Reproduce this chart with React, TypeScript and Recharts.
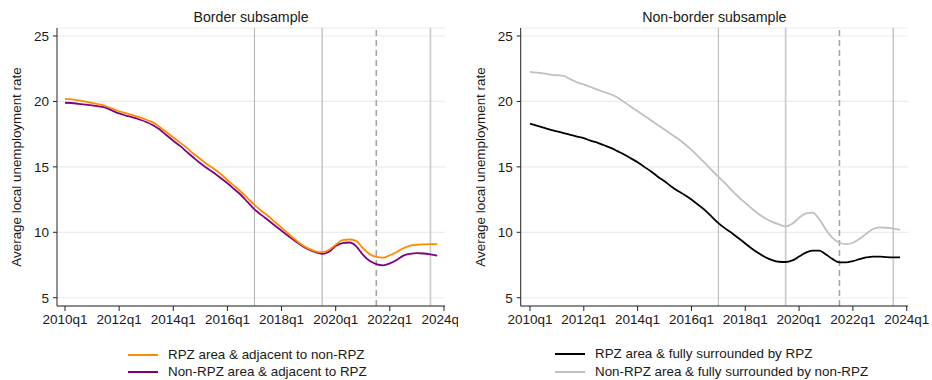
import { CartesianGrid, Line, LineChart, ReferenceLine, XAxis, YAxis } from 'recharts'

// quarter labels 2010q1 .. 2023q4
const quarters: string[] = []
for (let y = 2010; y <= 2023; y++) for (let q = 1; q <= 4; q++) quarters.push(`${y}q${q}`)

const xTicks = [0, 8, 16, 24, 32, 40, 48, 56]
const xTickLabels = ['2010q1', '2012q1', '2014q1', '2016q1', '2018q1', '2020q1', '2022q1', '2024q1']
const yTicks = [5, 10, 15, 20, 25]

// event markers (quarter index): 2017q1, 2019q3, 2021q3 (dashed), 2023q3
const solidThin = [28]
const solidThick = [38, 54]
const dashed = [46]

// Border subsample
const rpzAdjacent = [
  20.2, 20.15, 20.08, 19.98, 19.88, 19.78, 19.65, 19.45, 19.25, 19.1, 18.95, 18.8, 18.6, 18.4,
  18.05, 17.65, 17.25, 16.85, 16.45, 16.0, 15.6, 15.2, 14.85, 14.45, 14.0, 13.55, 13.1, 12.6,
  12.1, 11.65, 11.25, 10.8, 10.35, 9.9, 9.45, 9.05, 8.75, 8.55, 8.48, 8.65, 9.05, 9.4,
  9.45, 9.35, 8.8, 8.35, 8.12, 8.06, 8.25, 8.5, 8.78, 8.98, 9.05, 9.08, 9.1, 9.1,
]
const nonRpzAdjacent = [
  19.9, 19.88, 19.82, 19.76, 19.7, 19.62, 19.52, 19.3, 19.08, 18.92, 18.78, 18.62, 18.43, 18.18,
  17.85, 17.42, 17.0, 16.6, 16.15, 15.7, 15.27, 14.9, 14.55, 14.15, 13.75, 13.3, 12.85, 12.3,
  11.75, 11.33, 10.94, 10.52, 10.12, 9.72, 9.33, 8.98, 8.7, 8.48, 8.36, 8.52, 8.95, 9.18,
  9.22, 8.95, 8.3, 7.82, 7.57, 7.48, 7.62, 7.88, 8.22, 8.36, 8.41, 8.38, 8.31, 8.22,
]

// Non-border subsample
const rpzSurrounded = [
  18.3, 18.15, 18.0, 17.85, 17.72, 17.58, 17.45, 17.32, 17.2, 17.0, 16.85, 16.65, 16.45, 16.2,
  15.95, 15.65, 15.35, 15.0, 14.65, 14.25, 13.9, 13.5, 13.15, 12.85, 12.5, 12.1, 11.7, 11.2,
  10.7, 10.3, 9.95, 9.55, 9.15, 8.75, 8.4, 8.1, 7.88, 7.75, 7.73, 7.85, 8.15, 8.45,
  8.6, 8.6, 8.3, 7.95, 7.7, 7.7, 7.8, 7.95, 8.08, 8.15, 8.15, 8.1, 8.08, 8.08,
]
const nonRpzSurrounded = [
  22.25, 22.2, 22.15, 22.05, 22.0, 21.95, 21.7, 21.45, 21.3, 21.1, 20.9, 20.72, 20.55, 20.3,
  19.95, 19.6, 19.25, 18.9, 18.55, 18.2, 17.85, 17.5, 17.15, 16.75, 16.3, 15.8, 15.3, 14.75,
  14.25, 13.75, 13.2, 12.7, 12.25, 11.8, 11.4, 11.05, 10.8, 10.6, 10.45, 10.65, 11.1, 11.45,
  11.5, 11.0, 10.2, 9.55, 9.2, 9.1, 9.2, 9.5, 9.9, 10.25, 10.38, 10.35, 10.28, 10.18,
]

const borderData = quarters.map((q, i) => ({ t: i, q, a: rpzAdjacent[i], b: nonRpzAdjacent[i] }))
const nonBorderData = quarters.map((q, i) => ({ t: i, q, a: rpzSurrounded[i], b: nonRpzSurrounded[i] }))

const font = '"Liberation Sans", Arial, sans-serif'
const yLabel = 'Average local unemployment rate'

type PanelProps = {
  left: number
  width: number
  marginLeft: number
  marginRight: number
  xDomain: [number, number]
  title: string
  data: { t: number; a: number; b: number }[]
  colorA: string
  colorB: string
  labelX: number
}

function Panel({ left, width, marginLeft, marginRight, xDomain, title, data, colorA, colorB, labelX }: PanelProps) {
  const plotLeft = marginLeft + 40
  const plotRight = width - marginRight
  return (
    <div style={{ position: 'absolute', left, top: 0, width, height: 340, overflow: 'hidden' }}>
      <LineChart width={width} height={340} data={data} margin={{ top: 28, right: marginRight, bottom: 4, left: marginLeft }}>
        <CartesianGrid vertical={false} stroke="#ececec" strokeWidth={1.2} />
        <XAxis
          dataKey="t"
          type="number"
          domain={xDomain}
          allowDataOverflow
          ticks={xTicks}
          tickFormatter={(v: number) => xTickLabels[xTicks.indexOf(v)] ?? ''}
          interval={0}
          height={30}
          tickSize={5}
          tickMargin={3}
          stroke="#222"
          tick={{ fill: '#1a1a1a', fontSize: 13.5, fontFamily: font }}
        />
        <YAxis
          type="number"
          domain={[4.37, 25.61]}
          allowDataOverflow
          ticks={yTicks}
          width={40}
          tickSize={4}
          tickMargin={4}
          stroke="#222"
          tick={{ fill: '#1a1a1a', fontSize: 13.5, fontFamily: font }}
        />
        {solidThin.map((x) => (
          <ReferenceLine key={`s${x}`} x={x} stroke="#b4b4b4" strokeWidth={1} />
        ))}
        {solidThick.map((x) => (
          <ReferenceLine key={`t${x}`} x={x} stroke="#c8c8c8" strokeWidth={1.6} />
        ))}
        {dashed.map((x) => (
          <ReferenceLine key={`d${x}`} x={x} stroke="#a6a6a6" strokeWidth={1.6} strokeDasharray="6 4" />
        ))}
        <Line type="monotone" dataKey="b" stroke={colorB} strokeWidth={1.8} dot={false} isAnimationActive={false} />
        <Line type="monotone" dataKey="a" stroke={colorA} strokeWidth={1.8} dot={false} isAnimationActive={false} />
      </LineChart>
      <div
        style={{
          position: 'absolute',
          left: (plotLeft + plotRight) / 2,
          top: 9,
          transform: 'translateX(-50%)',
          whiteSpace: 'nowrap',
          fontFamily: font,
          fontSize: 14.2,
          color: '#1a1a1a',
          lineHeight: '17px',
        }}
      >
        {title}
      </div>
      <div
        style={{
          position: 'absolute',
          left: labelX,
          top: 167,
          transform: 'translate(-50%, -50%) rotate(-90deg)',
          whiteSpace: 'nowrap',
          fontFamily: font,
          fontSize: 13.4,
          color: '#1a1a1a',
        }}
      >
        {yLabel}
      </div>
    </div>
  )
}

function LegendItem({ left, top, color, text }: { left: number; top: number; color: string; text: string }) {
  return (
    <div style={{ position: 'absolute', left, top, display: 'flex', alignItems: 'center', fontFamily: font, fontSize: 13.4, color: '#1a1a1a', whiteSpace: 'nowrap', lineHeight: '16px' }}>
      <span style={{ display: 'inline-block', width: 30, height: 2, background: color, marginRight: 10 }} />
      {text}
    </div>
  )
}

export default function App() {
  return (
    <div style={{ position: 'absolute', left: 0, top: 0, width: 932, height: 380, background: '#fff', overflow: 'hidden' }}>
      <Panel
        left={0}
        width={458}
        marginLeft={17}
        marginRight={13}
        xDomain={[-1.18, 56.15]}
        title="Border subsample"
        data={borderData}
        colorA="#ff8c00"
        colorB="#800080"
        labelX={16}
      />
      <Panel
        left={470}
        width={462}
        marginLeft={10.7}
        marginRight={24}
        xDomain={[-1.38, 56.19]}
        title="Non-border subsample"
        data={nonBorderData}
        colorA="#000000"
        colorB="#c0c0c0"
        labelX={10}
      />
      <LegendItem left={128} top={347} color="#ff8c00" text="RPZ area & adjacent to non-RPZ" />
      <LegendItem left={128} top={364} color="#800080" text="Non-RPZ area & adjacent to RPZ" />
      <LegendItem left={555} top={346} color="#000000" text="RPZ area & fully surrounded by RPZ" />
      <LegendItem left={555} top={364} color="#c0c0c0" text="Non-RPZ area & fully surrounded by non-RPZ" />
    </div>
  )
}
